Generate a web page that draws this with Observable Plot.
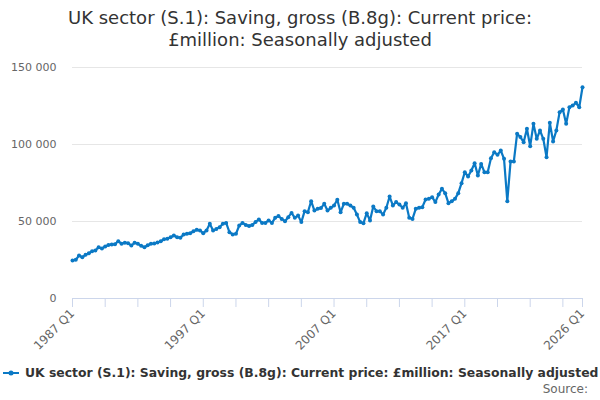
<!DOCTYPE html>
<html>
<head>
<meta charset="utf-8">
<script src="https://cdn.jsdelivr.net/npm/d3@7"></script>
<script src="https://cdn.jsdelivr.net/npm/@observablehq/plot@0.6"></script>
<style>
  body { margin: 0; width: 600px; height: 400px; position: relative; overflow: hidden; background: #fff; font-family: "DejaVu Sans", sans-serif; }
  #title { position: absolute; top: 7px; left: 0; width: 600px; text-align: center; font-size: 18px; line-height: 22px; color: #333; }
  #chart { position: absolute; top: 55px; left: 0; }
  #legend { position: absolute; top: 365px; left: 2px; font-size: 12.4px; font-weight: bold; color: #333; white-space: nowrap; display: flex; align-items: center; }
  #source { position: absolute; top: 382px; right: 12px; font-size: 12px; color: #666; }
</style>
</head>
<body>
<div id="title">UK sector (S.1): Saving, gross (B.8g): Current price:<br>£million: Seasonally adjusted</div>
<div id="chart"></div>
<div id="legend"><svg width="23" height="12"><line x1="1" x2="17" y1="6" y2="6" stroke="#0b79c5" stroke-width="2"/><circle cx="9" cy="6" r="2.5" fill="#0b79c5"/></svg><span>UK sector (S.1): Saving, gross (B.8g): Current price: £million: Seasonally adjusted</span></div>
<div id="source">Source:</div>
<script>
// quarters 1987 Q1 .. 2026 Q1
const firstYear = 1987
const nQuarters = 157
const quarters = d3.range(nQuarters).map(i => `${firstYear + Math.floor(i / 4)} Q${i % 4 + 1}`)

// £ million (in thousands)
const saving87to94 = [24.7, 25.1, 27.9, 26.8, 28.4, 29.4, 30.7, 31.2, 33.3, 32.5, 33.8, 34.8, 35.0, 35.3, 37.2, 35.5,
  36.2, 35.9, 34.4, 36.2, 35.5, 34.2, 33.3, 34.6, 35.5, 35.7, 36.4, 37.2, 38.5, 38.8, 39.8, 40.9]
const saving95to02 = [39.8, 39.4, 41.6, 42.0, 42.4, 43.7, 44.6, 44.2, 42.4, 44.2, 48.5, 44.2, 45.2, 46.3, 48.5, 49.1,
  43.1, 41.6, 42.0, 47.4, 49.1, 47.8, 47.0, 47.8, 49.6, 51.3, 49.1, 49.1, 50.7, 49.1, 52.4, 53.5]
const saving03to10 = [51.7, 50.2, 52.8, 55.6, 52.4, 53.9, 49.6, 56.7, 56.0, 63.2, 57.1, 58.2, 58.7, 61.5, 57.1, 58.9,
  60.4, 64.1, 56.0, 61.5, 61.5, 60.4, 58.9, 54.5, 49.6, 48.9, 55.4, 50.7, 59.7, 56.7]
const saving10to18 = [56.7, 54.5, 58.9, 66.2, 60.4, 62.6, 61.0, 58.9, 61.9, 52.4, 51.7, 58.2, 58.9, 59.3, 64.3, 64.7,
  65.8, 62.6, 67.5, 71.2, 68.4, 61.9, 63.2, 64.7, 68.4, 74.9, 82.0, 79.2, 83.1, 87.9, 79.9]
const saving18to26 = [87.4, 82.0, 82.0, 91.1, 95.0, 93.3, 96.1, 90.7, 63.2, 89.0, 89.0, 107.0, 104.8, 101.5, 110.2, 98.9,
  113.4, 103.7, 109.1, 103.7, 91.8, 114.1, 102.0, 109.1, 121.0, 122.7, 113.4, 124.2, 125.3, 127.1, 124.2, 137.2]

const values = [...saving87to94, ...saving95to02, ...saving03to10, ...saving10to18, ...saving18to26].map(v => v * 1000)
const data = values.map((v, i) => ({i, q: quarters[i], v}))

const yTicks = [0, 50000, 100000, 150000]
const tickIdx = [...d3.range(0, nQuarters, 10), nQuarters - 1]
const labelIdx = [0, 40, 80, 120, nQuarters - 1]

const blue = "#0b79c5"
const fmt = d => d3.format(",")(d).replace(/,/g, " ")

let chart = Plot.plot({
  width: 600,
  height: 305,
  marginLeft: 72,
  marginRight: 18,
  marginTop: 12,
  marginBottom: 62,
  x: {domain: [0, nQuarters - 1]},
  y: {domain: [0, 150000]},
  style: {fontFamily: "DejaVu Sans", fontSize: 11, background: "#fff"},
  marks: [
    Plot.gridY(yTicks.slice(1), {stroke: "#e6e6e6", strokeOpacity: 1}),
    Plot.axisY({ticks: yTicks, tickSize: 0, tickPadding: 16, tickFormat: fmt, fill: "#666", label: null}),
    Plot.ruleY([0], {stroke: "#ccd6eb"}),
    Plot.axisX({ticks: tickIdx, tickSize: 9, tickFormat: () => "", stroke: "#ccd6eb", strokeOpacity: 1, label: null}),
    Plot.axisX({ticks: labelIdx, tickSize: 0, tickPadding: 13, tickRotate: -45, tickFormat: i => quarters[i], fill: "#666", fontSize: 12, label: null}),
    Plot.line(data, {x: "i", y: "v", stroke: blue, strokeWidth: 2.2}),
    Plot.dot(data, {x: "i", y: "v", r: 2, fill: blue})
  ]
})

d3.select("#chart").append(() => chart)
</script>
</body>
</html>
